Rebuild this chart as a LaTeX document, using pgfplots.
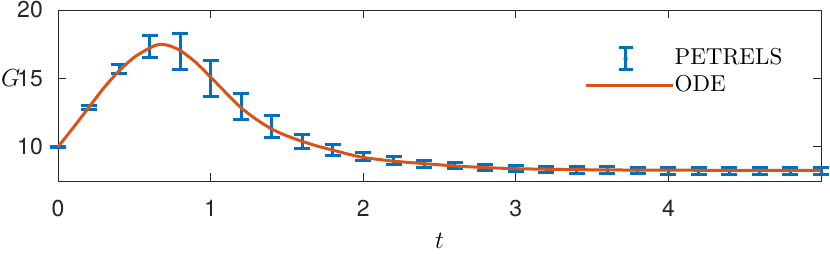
\documentclass[border=0pt]{standalone}
\usepackage{pgfplots}
\pgfplotsset{compat=1.18}
\usepackage{pgfplotstable}
\usepackage{fontspec}
\newfontfamily\hel{TeX Gyre Heros}
\newfontfamily\cmr{lmroman10-regular}[Extension=.otf]
\definecolor{mblue}{RGB}{0,114,189}
\definecolor{morange}{RGB}{217,83,25}
\definecolor{axgray}{RGB}{38,38,38}

\pgfplotstableread{
t g e
0.0 10.00 0.05
0.2 12.88 0.12
0.4 15.68 0.31
0.6 17.34 0.78
0.8 16.97 1.33
1.0 15.01 1.32
1.2 12.94 0.98
1.4 11.46 0.80
1.6 10.42 0.51
1.8 9.74 0.40
2.0 9.27 0.30
2.2 9.01 0.28
2.4 8.75 0.25
2.6 8.62 0.23
2.8 8.51 0.23
3.0 8.42 0.23
3.2 8.36 0.23
3.4 8.32 0.24
3.6 8.29 0.24
3.8 8.27 0.25
4.0 8.26 0.25
4.2 8.25 0.25
4.4 8.25 0.25
4.6 8.25 0.25
4.8 8.25 0.25
5.0 8.25 0.25
}\petrels

\pgfplotstableread{
t y
0.00 10.00
0.10 11.40
0.20 12.85
0.30 14.30
0.40 15.55
0.50 16.55
0.60 17.22
0.66 17.48
0.72 17.42
0.80 17.05
0.90 16.20
1.00 15.10
1.10 13.95
1.20 12.85
1.30 12.00
1.40 11.30
1.50 10.80
1.60 10.40
1.70 10.05
1.80 9.76
1.90 9.47
2.00 9.22
2.20 8.95
2.40 8.77
2.60 8.60
2.80 8.48
3.00 8.40
3.20 8.36
3.40 8.33
3.60 8.31
4.00 8.29
4.50 8.28
5.00 8.27
}\ode

\begin{document}
\begin{tikzpicture}
\begin{axis}[
  scale only axis,
  width=763bp, height=171bp,
  xmin=0, xmax=5, ymin=7.5, ymax=20,
  xtick={0,1,2,3,4}, xticklabels={0,1,2,3,4},
  ytick={10,15,20}, yticklabels={10,15,20},
  axis line style={axgray, line width=0.9bp},
  every tick/.style={axgray, line width=0.9bp},
  major tick length=8bp,
  tick align=inside,
  xticklabel style={font=\hel\fontsize{23bp}{27bp}\selectfont, text=axgray, inner sep=0pt, anchor=north, yshift=-19bp},
  yticklabel style={font=\hel\fontsize{23bp}{27bp}\selectfont, text=axgray, inner sep=0pt, anchor=east, xshift=-15bp},
  xlabel={$t$}, ylabel={$G$},
  label style={font=\fontsize{24bp}{28bp}\selectfont},
  xlabel style={at={(axis description cs:0.5,-0.351)}, anchor=center},
  ylabel style={at={(axis description cs:-0.062,0.602)}, anchor=center, rotate=-90},
  clip=false,
  legend style={draw=none, fill=none, at={(axis description cs:0.686,0.801)}, anchor=north west,
    font=\cmr\fontsize{23bp}{27bp}\selectfont, row sep=3bp, column sep=0bp,
    nodes={inner sep=0pt, text height=17bp, text depth=5bp}},
  legend cell align=left,
]
\addplot[color=mblue, mark=none, draw=none,
  legend image code/.code={
    \draw[mblue, line width=3bp] (39.5bp,-11bp) -- (39.5bp,11bp);
    \draw[mblue, line width=3bp] (32.5bp,-11bp) -- (46.5bp,-11bp);
    \draw[mblue, line width=3bp] (32.5bp,11bp) -- (46.5bp,11bp);
    \fill[mblue] (39.5bp,0) circle (2.2bp);
    \path (0,0) -- (87bp,0);
  },
  error bars/.cd, y dir=both, y explicit,
  error bar style={line width=3bp, mblue},
  error mark options={rotate=90, line width=3bp, mark size=8bp, mblue}]
  table[x=t, y=g, y error=e] {\petrels};
\addlegendentry{PETRELS}
\addplot[color=morange, line width=3bp, mark=none, smooth, tension=0.4,
  legend image code/.code={
    \draw[morange, line width=3bp] (0bp,0) -- (79bp,0);
    \path (0,0) -- (87bp,0);
  }]
  table[x=t, y=y] {\ode};
\addlegendentry{ODE}
\coordinate (ll) at (rel axis cs:0,0);
\coordinate (ur) at (rel axis cs:1,1);
\end{axis}
\pgfresetboundingbox
\path ([shift={(-58bp,-72bp)}]ll) rectangle ([shift={(9bp,10bp)}]ur);
\end{tikzpicture}
\end{document}
